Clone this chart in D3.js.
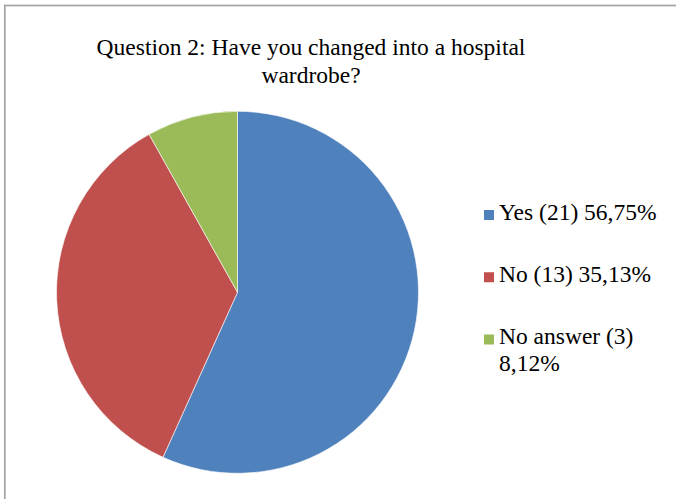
<!DOCTYPE html>
<html>
<head>
<meta charset="utf-8">
<script src="https://cdn.jsdelivr.net/npm/d3@7"></script>
<style>
  html, body { margin: 0; padding: 0; background: #fff; }
  svg { display: block; }
</style>
</head>
<body>
<svg id="chart" width="676" height="499"></svg>
<script>
const titleLines = ["Question 2: Have you changed into a hospital", "wardrobe?"];
const categories = ["Yes", "No", "No answer"];
const counts = [21, 13, 3];
const percents = [56.75, 35.13, 8.12];
const legendLines = [["Yes (21) 56,75%"], ["No (13) 35,13%"], ["No answer (3)", "8,12%"]];
const colors = ["#4F81BD", "#C0504D", "#9BBB59"];

const svg = d3.select("#chart");
const font = "'Liberation Serif', 'Times New Roman', serif";

// outer border
svg.append("rect")
  .attr("x", 4.8).attr("y", 5.5)
  .attr("width", 700).attr("height", 520)
  .attr("fill", "none")
  .attr("stroke", "#a3a3a3")
  .attr("stroke-width", 1.7);

// title
const title = svg.append("text")
  .attr("text-anchor", "middle")
  .attr("font-family", font)
  .attr("font-size", 23.5)
  .attr("fill", "#000");
titleLines.forEach((t, i) => {
  title.append("tspan").attr("x", 311).attr("y", 55 + i * 28).text(t);
});

// pie
const data = categories.map((c, i) => ({ cat: c, value: percents[i], count: counts[i], color: colors[i] }));
const pie = d3.pie().sort(null).value(d => d.value);
const arc = d3.arc().innerRadius(0).outerRadius(181);
const g = svg.append("g").attr("transform", "translate(237.5,292.3)");
g.selectAll("path")
  .data(pie(data))
  .join("path")
  .attr("d", arc)
  .attr("fill", d => d.data.color)
  .attr("stroke", "#ffffff")
  .attr("stroke-width", 0.6);

// legend
const legendY = d3.scalePoint().domain(categories).range([219.5, 344]);
const lg = svg.append("g");
data.forEach((d, i) => {
  const y = legendY(d.cat);
  lg.append("rect")
    .attr("x", 484).attr("y", y - 9.5)
    .attr("width", 10).attr("height", 10)
    .attr("fill", d.color);
  const t = lg.append("text")
    .attr("font-family", font)
    .attr("font-size", 23.5)
    .attr("fill", "#000");
  legendLines[i].forEach((line, j) => {
    t.append("tspan").attr("x", 499).attr("y", y + j * 27).text(line);
  });
});
</script>
</body>
</html>
